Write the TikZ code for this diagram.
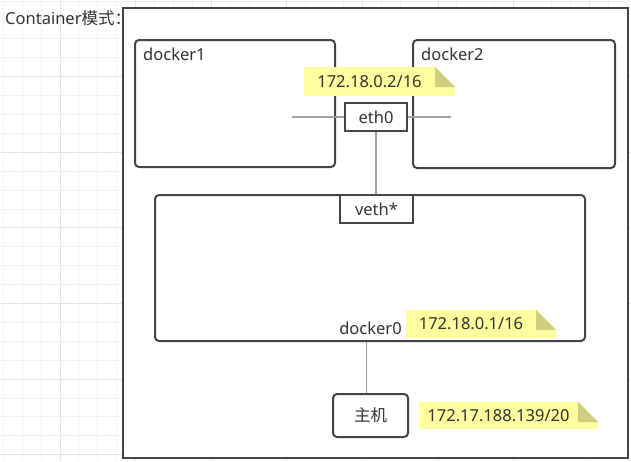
\documentclass[tikz,border=0pt]{standalone}
\usepackage{fontspec}
\setmainfont{Noto Sans}
\newfontfamily\cjk{Noto Sans CJK SC}
\usetikzlibrary{positioning}
\definecolor{framegray}{RGB}{68,68,68}
\definecolor{textgray}{RGB}{51,51,51}
\definecolor{linegray}{RGB}{160,160,160}
\definecolor{gridminor}{RGB}{242,242,242}
\definecolor{gridmajor}{RGB}{228,228,228}
\definecolor{noteyellow}{RGB}{255,255,160}
\definecolor{notefold}{RGB}{206,206,126}

\begin{document}
\begin{tikzpicture}[
    x=1pt, y=-1pt,
    every node/.style={font=\fontsize{16.5}{19}\selectfont, text=textgray},
    hostframe/.style={
        rectangle,
        draw=framegray,
        line width=2pt,
        fill=white,
        inner sep=0pt
    },
    netbox/.style={
        rectangle,
        rounded corners=4pt,
        draw=framegray,
        line width=2pt,
        fill=white,
        inner sep=0pt
    },
    iface/.style={
        rectangle,
        draw=framegray,
        line width=2pt,
        fill=white,
        inner sep=0pt,
        minimum height=28pt
    },
    notebox/.style={
        rectangle,
        fill=noteyellow,
        inner sep=0pt,
        path picture={
            \fill[white] ([xshift=-20pt]path picture bounding box.north east)
                -- (path picture bounding box.north east)
                -- ([yshift=-20pt]path picture bounding box.north east) -- cycle;
            \fill[notefold] ([xshift=-20pt]path picture bounding box.north east)
                -- ([xshift=-20pt,yshift=-20pt]path picture bounding box.north east)
                -- ([yshift=-20pt]path picture bounding box.north east) -- cycle;
        }
    },
    boxname/.style={inner sep=0pt},
    link/.style={draw=linegray, line width=1.3pt}
]

\useasboundingbox (0,0) rectangle (631,461);

% background grid
\foreach \i in {0,...,33}
    \draw[gridminor, line width=1pt] ({3.3+18.9*\i},0) -- ({3.3+18.9*\i},461);
\foreach \j in {0,...,24}
    \draw[gridminor, line width=1pt] (0,{1.1+18.9*\j}) -- (631,{1.1+18.9*\j});
\foreach \i in {3,7,...,31}
    \draw[gridmajor, line width=1pt] ({3.3+18.9*\i},0) -- ({3.3+18.9*\i},461);
\foreach \j in {4,8,...,24}
    \draw[gridmajor, line width=1pt] (0,{1.1+18.9*\j}) -- (631,{1.1+18.9*\j});

\node[anchor=west, inner sep=0pt] (title) at (5,18) {Container{\cjk 模式：}};

\node[hostframe, minimum width=505pt, minimum height=450pt] (hostbox) at (375.5,233) {};

% containers
\node[netbox, minimum width=200pt, minimum height=127pt] (docker1) at (235,103.5) {};
\node[netbox, minimum width=202pt, minimum height=128pt] (docker2) at (514,104) {};
\node[boxname, below right=9pt and 9pt of docker1.north west] (docker1name) {docker1};
\node[boxname, below right=9pt and 9pt of docker2.north west] (docker2name) {docker2};

% bridge
\node[netbox, minimum width=430pt, minimum height=146pt] (docker0) at (370,268) {};
\node[boxname] (docker0name) at (370.5,328) {docker0};

\node[iface, minimum width=62pt] (eth0) at (376,117) {eth0};
\node[iface, minimum width=73pt] (veth) at (376.5,209) {veth*};

\node[netbox, minimum width=75pt, minimum height=43pt] (hostpc) at (370.5,415.5) {\cjk 主机};

\coordinate (ethL) at (292,117);
\coordinate (ethR) at (451,117);

\draw[link] (ethL) -- (eth0.west);
\draw[link] (eth0.east) -- (ethR);
\draw[link] (eth0.south) -- (eth0.south |- veth.north);
\draw[link] ([xshift=-3.5pt]docker0.south) -- ([xshift=-3.5pt]docker0.south |- hostpc.north);

% address notes
\node[notebox, minimum height=29pt] (ip1) at (379.5,81.5) {\makebox[131pt]{172.18.0.2/16}\kern20pt};
\node[notebox, minimum height=28pt] (ip2) at (481,324) {\makebox[130pt]{172.18.0.1/16}\kern20pt};
\node[notebox, minimum height=27pt] (ip3) at (508.5,415.5) {\makebox[159pt]{172.17.188.139/20}\kern20pt};

\end{tikzpicture}
\end{document}
